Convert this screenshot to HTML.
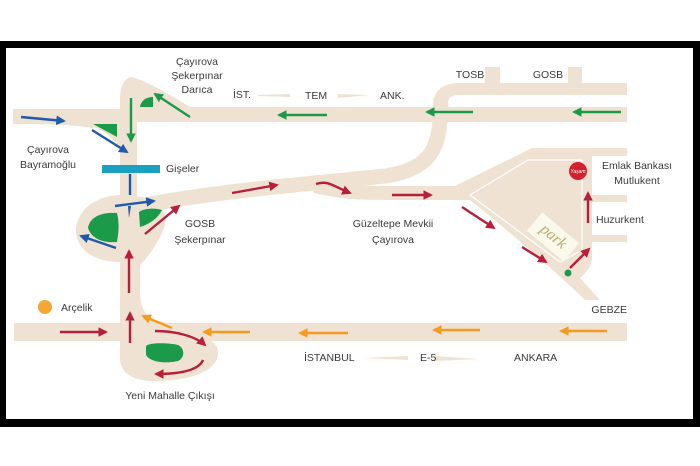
<!DOCTYPE html>
<html><head><meta charset="utf-8"><style>
html,body{margin:0;padding:0;background:#fff}
svg{display:block}
text{font-family:"Liberation Sans",sans-serif;font-size:10.5px;fill:#3a3a3a}
</style></head><body>
<svg width="700" height="466" viewBox="0 0 700 466" xmlns="http://www.w3.org/2000/svg">
<defs>
<marker id="mb" viewBox="0 0 10 10" refX="8" refY="5" markerWidth="4" markerHeight="4" orient="auto"><path d="M0,0L10,5L0,10z" fill="#1f5ba8"/></marker>
<marker id="mg" viewBox="0 0 10 10" refX="8" refY="5" markerWidth="4" markerHeight="4" orient="auto"><path d="M0,0L10,5L0,10z" fill="#1b9a4a"/></marker>
<marker id="mr" viewBox="0 0 10 10" refX="8" refY="5" markerWidth="4" markerHeight="4" orient="auto"><path d="M0,0L10,5L0,10z" fill="#b71f3b"/></marker>
<marker id="mo" viewBox="0 0 10 10" refX="8" refY="5" markerWidth="4" markerHeight="4" orient="auto"><path d="M0,0L10,5L0,10z" fill="#f49b20"/></marker>
</defs>
<rect x="0" y="41" width="700" height="386" fill="#000"/>
<rect x="6" y="48" width="687" height="371" fill="#fff"/>
<g fill="#efe2d2">
<path d="M13,109 L120,109 L120,124 C110,124 100,125 92,128 C70,124 40,124 13,124 Z"/>
<path d="M92,126 C105,132 115,138 120,150 L120,124 Z"/>
<path d="M120,200 L120,100 C120,85 125,77 132,77 C145,80 170,95 190,107 L137,107 L137,200 Z"/>
<rect x="137" y="107" width="490" height="15"/>
<path d="M627,83 L460,83 C445,83 436,88 434,100 L448,102 C449,97 452,95 460,95 L627,95 Z"/>
<rect x="485" y="67" width="15" height="18"/>
<rect x="568" y="67" width="14" height="18"/>
<!-- park block -->
<path d="M455,186 L532,148 L627,148 L627,156 L592,156 L592,195 L627,195 L627,202 L592,202 L592,235 L627,235 L627,242 L592,242 L592,260 C590,268 585,274 580,278 L600,300 L585,300 C570,285 520,240 470,200 Z"/>
<!-- upper blob -->
<path d="M120,195 C95,196 78,210 76,228 C75,250 95,262 120,262 L120,330 L140,330 L140,265 C150,255 160,240 165,225 C168,210 155,197 140,197 Z"/>
<path d="M140,290 C140,315 150,322 172,323 L140,323 Z"/>
<rect x="14" y="323" width="613" height="18"/>
<path d="M120,335 L120,360 C122,375 135,382 160,381 C190,380 215,372 218,355 C219,345 212,340 205,339 L140,339 Z"/>
<path d="M258,95 L290,94 L290,97 L258,96Z"/><path d="M338,94 L370,95 L338,98Z"/>
<path d="M364,358 L408,356 L408,360Z"/><path d="M434,356 L480,359 L434,361Z"/>
</g>
<g fill="none" stroke="#efe2d2">
<path d="M140,206 C220,190 330,182 385,176 C428,170 438,150 440,120 L441,98" stroke-width="15"/>
<path d="M315,186 C345,193 360,193 400,193 L475,193" stroke-width="14"/>
</g>
<path d="M470,195 L528,160 L582,160 L582,250 L560,262 Z" fill="none" stroke="#fff" stroke-width="1.2"/>
<g transform="translate(553,237) rotate(40)"><rect x="-24" y="-12" width="48" height="24" fill="#fbf8ec"/><text x="0" y="4" text-anchor="middle" style="font-family:'Liberation Serif',serif;font-size:16px;fill:#b9b06a;font-style:italic">park</text></g>
<rect x="102" y="165" width="58" height="8" fill="#1aa1c2"/>
<g fill="#1b9a4a">
<path d="M140,107 C141,100 147,97 153,97 L153,107 Z"/>
<path d="M93,124 L117,124 L117,137 Z"/>
<path d="M88,228 C90,215 105,212 117,213 C120,225 118,236 117,242 C105,243 92,240 88,228Z"/>
<path d="M139,212 C145,208 155,208 162,210 C158,218 150,224 140,227 Z"/>
<path d="M146,346 C150,342 170,343 178,345 C185,348 185,358 178,361 C165,364 150,362 146,355Z"/>
<circle cx="568" cy="273" r="3.5"/>
</g>
<circle cx="45" cy="307" r="7" fill="#f5a733"/>
<circle cx="578" cy="171" r="9" fill="#d3202c"/>
<text x="578" y="173" text-anchor="middle" style="font-size:5px;fill:#fff;font-style:italic">Yaşam</text>
<g stroke-width="2.4" fill="none">
<g stroke="#1f5ba8">
<line x1="21" y1="117" x2="64" y2="121" marker-end="url(#mb)"/>
<line x1="92" y1="130" x2="127" y2="152" marker-end="url(#mb)"/>
<line x1="130" y1="174" x2="130" y2="195"/>
<line x1="115" y1="206" x2="154" y2="201" marker-end="url(#mb)"/>
<path d="M128,206 L131,206 L129,218Z" fill="#1f5ba8" stroke="none"/>
<line x1="116" y1="248" x2="81" y2="236" marker-end="url(#mb)"/>
</g>
<g stroke="#1b9a4a">
<line x1="131" y1="98" x2="131" y2="141" marker-end="url(#mg)"/>
<line x1="190" y1="117" x2="155" y2="94" marker-end="url(#mg)"/>
<line x1="327" y1="115" x2="279" y2="115" marker-end="url(#mg)"/>
<line x1="473" y1="112" x2="427" y2="112" marker-end="url(#mg)"/>
<line x1="621" y1="112" x2="574" y2="112" marker-end="url(#mg)"/>
</g>
<g stroke="#b71f3b">
<line x1="145" y1="234" x2="179" y2="206" marker-end="url(#mr)"/>
<line x1="232" y1="193" x2="277" y2="185" marker-end="url(#mr)"/>
<path d="M316,184 C328,180 333,186 350,193" marker-end="url(#mr)"/>
<line x1="392" y1="195" x2="431" y2="195" marker-end="url(#mr)"/>
<line x1="462" y1="207" x2="494" y2="228" marker-end="url(#mr)"/>
<line x1="522" y1="247" x2="546" y2="262" marker-end="url(#mr)"/>
<line x1="570" y1="268" x2="589" y2="249" marker-end="url(#mr)"/>
<line x1="588" y1="223" x2="588" y2="193" marker-end="url(#mr)"/>
<line x1="129" y1="293" x2="129" y2="251" marker-end="url(#mr)"/>
<line x1="130" y1="343" x2="130" y2="313" marker-end="url(#mr)"/>
<line x1="60" y1="332" x2="106" y2="332" marker-end="url(#mr)"/>
<path d="M155,331 C175,331 195,336 205,345" marker-end="url(#mr)"/>
<path d="M203,360 C198,372 175,374 156,374" marker-end="url(#mr)"/>
</g>
<g stroke="#f49b20">
<line x1="607" y1="331" x2="561" y2="331" marker-end="url(#mo)"/>
<line x1="480" y1="330" x2="434" y2="330" marker-end="url(#mo)"/>
<line x1="348" y1="333" x2="300" y2="333" marker-end="url(#mo)"/>
<line x1="250" y1="332" x2="204" y2="332" marker-end="url(#mo)"/>
<line x1="172" y1="328" x2="143" y2="316" marker-end="url(#mo)"/>
</g>
</g>
<text x="197" y="65" text-anchor="middle">Çayırova</text>
<text x="197" y="79" text-anchor="middle">Şekerpınar</text>
<text x="197" y="93" text-anchor="middle">Darıca</text>
<text x="233" y="98">İST.</text>
<text x="305" y="99">TEM</text>
<text x="380" y="99">ANK.</text>
<text x="470" y="78" text-anchor="middle">TOSB</text>
<text x="548" y="78" text-anchor="middle">GOSB</text>
<text x="48" y="153" text-anchor="middle">Çayırova</text>
<text x="48" y="168" text-anchor="middle">Bayramoğlu</text>
<text x="166" y="172">Gişeler</text>
<text x="200" y="227" text-anchor="middle">GOSB</text>
<text x="200" y="243" text-anchor="middle">Şekerpınar</text>
<text x="393" y="227" text-anchor="middle">Güzeltepe Mevkii</text>
<text x="393" y="243" text-anchor="middle">Çayırova</text>
<text x="637" y="169" text-anchor="middle">Emlak Bankası</text>
<text x="637" y="184" text-anchor="middle">Mutlukent</text>
<text x="596" y="223">Huzurkent</text>
<text x="627" y="313" text-anchor="end">GEBZE</text>
<text x="61" y="311">Arçelik</text>
<text x="304" y="361">İSTANBUL</text>
<text x="420" y="361">E-5</text>
<text x="514" y="361">ANKARA</text>
<text x="170" y="399" text-anchor="middle">Yeni Mahalle Çıkışı</text>
</svg>
</body></html>
